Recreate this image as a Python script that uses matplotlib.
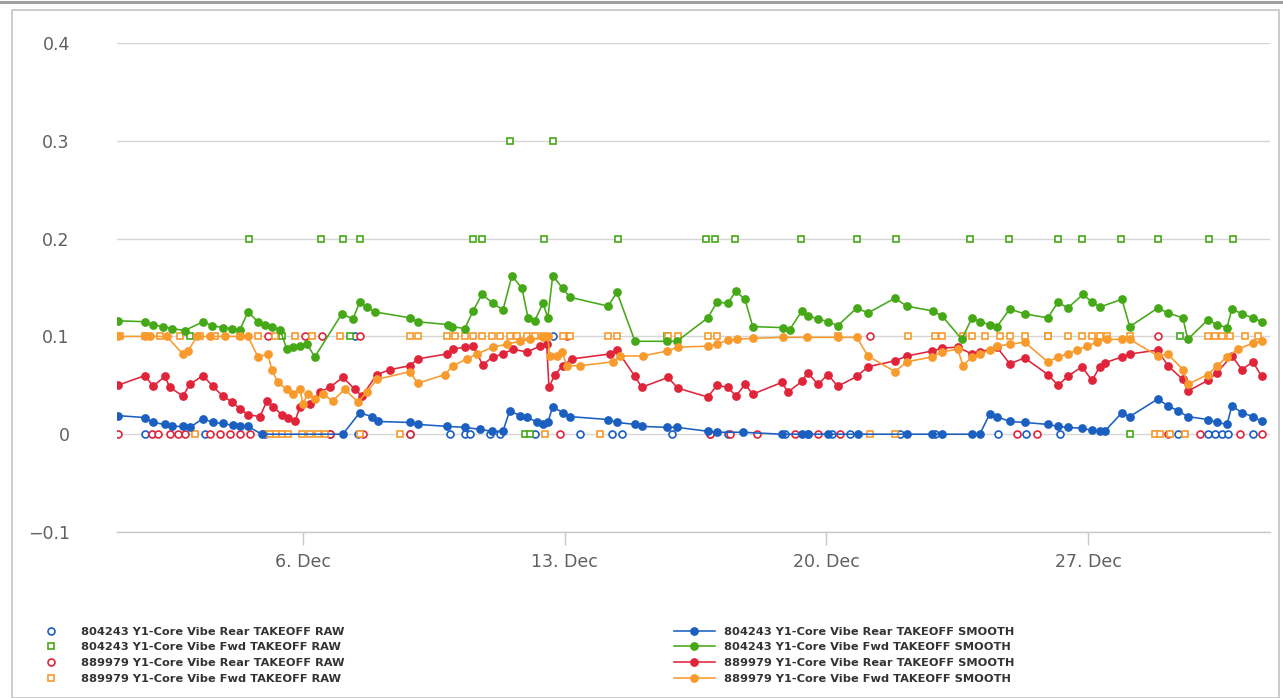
#!/usr/bin/env python3
"""Core vibe TAKEOFF trend chart: raw samples vs smoothed values, December."""

from datetime import datetime, timedelta

import matplotlib
matplotlib.use('Agg')
import matplotlib.pyplot as plt
import matplotlib.dates as mdates
from matplotlib.lines import Line2D
from matplotlib.patches import Rectangle

# --- data: x in days since 1 Dec, y in vibe units ---
BASE = datetime(2016, 12, 1)

blue_smooth_days = [0.05, 0.78, 0.99, 1.31, 1.50, 1.79, 1.98, 2.33, 2.59, 2.86, 3.13, 3.32, 3.53, 3.90,
                    6.07, 6.52, 6.84, 7.01, 7.86, 8.07, 8.85, 9.33, 9.73, 10.05, 10.35, 10.53, 10.80,
                    10.99, 11.26, 11.42, 11.55, 11.68, 11.95, 12.14, 13.16, 13.40, 13.88, 14.06, 14.73,
                    15.00, 15.83, 16.07, 16.76, 17.81, 18.34, 18.50, 19.04, 19.84, 21.15, 21.82, 22.09,
                    22.89, 23.10, 23.37, 23.56, 23.90, 24.30, 24.92, 25.19, 25.45, 25.83, 26.10, 26.31,
                    26.44, 26.90, 27.11, 27.86, 28.13, 28.40, 28.66, 29.20, 29.44, 29.71, 29.84, 30.11,
                    30.40, 30.64]
blue_smooth_vals = [0.019, 0.017, 0.012, 0.010, 0.008, 0.008, 0.007, 0.016, 0.012, 0.011, 0.009, 0.008,
                    0.008, 0.0, 0.0, 0.022, 0.018, 0.013, 0.012, 0.010, 0.008, 0.007, 0.005, 0.003,
                    0.003, 0.024, 0.019, 0.018, 0.012, 0.010, 0.012, 0.028, 0.022, 0.018, 0.015, 0.012,
                    0.010, 0.008, 0.007, 0.007, 0.003, 0.002, 0.002, 0.0, 0.0, 0.0, 0.0, 0.0, 0.0, 0.0,
                    0.0, 0.0, 0.0, 0.021, 0.018, 0.013, 0.012, 0.010, 0.008, 0.007, 0.006, 0.004, 0.003,
                    0.003, 0.022, 0.018, 0.036, 0.029, 0.024, 0.018, 0.015, 0.012, 0.010, 0.029, 0.022,
                    0.018, 0.013]

green_smooth_days = [0.05, 0.78, 0.99, 1.26, 1.50, 1.84, 2.33, 2.57, 2.86, 3.10, 3.32, 3.53, 3.80, 3.98,
                     4.17, 4.39, 4.57, 4.73, 4.92, 5.11, 5.32, 6.04, 6.34, 6.52, 6.71, 6.93, 7.86, 8.07,
                     8.88, 8.98, 9.33, 9.55, 9.79, 10.08, 10.35, 10.59, 10.86, 11.02, 11.20, 11.42,
                     11.55, 11.68, 11.95, 12.14, 13.16, 13.40, 13.88, 14.73, 15.00, 15.83, 16.07, 16.36,
                     16.58, 16.82, 17.03, 17.83, 18.02, 18.34, 18.50, 18.77, 19.04, 19.30, 19.81, 20.11,
                     20.83, 21.15, 21.84, 22.09, 22.62, 22.89, 23.10, 23.37, 23.56, 23.90, 24.30, 24.92,
                     25.19, 25.45, 25.86, 26.10, 26.31, 26.90, 27.11, 27.86, 28.13, 28.53, 28.66, 29.20,
                     29.44, 29.71, 29.84, 30.11, 30.40, 30.64]
green_smooth_vals = [0.116, 0.115, 0.112, 0.110, 0.108, 0.106, 0.115, 0.111, 0.109, 0.108, 0.107, 0.125,
                     0.115, 0.112, 0.110, 0.107, 0.087, 0.089, 0.090, 0.092, 0.079, 0.123, 0.118, 0.135,
                     0.130, 0.125, 0.119, 0.115, 0.112, 0.110, 0.108, 0.126, 0.143, 0.134, 0.127, 0.162,
                     0.149, 0.119, 0.116, 0.134, 0.119, 0.162, 0.149, 0.140, 0.131, 0.145, 0.095, 0.095,
                     0.095, 0.119, 0.135, 0.134, 0.146, 0.138, 0.110, 0.109, 0.107, 0.126, 0.121, 0.118,
                     0.115, 0.111, 0.129, 0.124, 0.139, 0.131, 0.126, 0.121, 0.097, 0.119, 0.115, 0.112,
                     0.110, 0.128, 0.123, 0.119, 0.135, 0.129, 0.143, 0.135, 0.130, 0.138, 0.110, 0.129,
                     0.124, 0.119, 0.097, 0.117, 0.112, 0.109, 0.128, 0.123, 0.119, 0.115]

red_smooth_days = [0.05, 0.78, 0.99, 1.31, 1.44, 1.79, 1.98, 2.33, 2.59, 2.86, 3.10, 3.32, 3.53, 3.85,
                   4.04, 4.20, 4.44, 4.60, 4.79, 4.92, 5.19, 5.45, 5.72, 6.07, 6.39, 6.58, 6.98, 7.33,
                   7.86, 8.07, 8.85, 9.01, 9.33, 9.55, 9.81, 10.08, 10.35, 10.61, 10.99, 11.34, 11.52,
                   11.58, 11.74, 11.95, 12.19, 13.21, 13.40, 13.88, 14.06, 14.76, 15.03, 15.83, 16.07,
                   16.36, 16.58, 16.82, 17.03, 17.81, 17.97, 18.34, 18.50, 18.77, 19.04, 19.30, 19.81,
                   20.11, 20.83, 21.15, 21.82, 22.09, 22.51, 22.89, 23.10, 23.56, 23.90, 24.30, 24.92,
                   25.19, 25.45, 25.83, 26.10, 26.31, 26.44, 26.90, 27.11, 27.86, 28.13, 28.53, 28.66,
                   29.20, 29.44, 29.84, 30.11, 30.40, 30.64]
red_smooth_vals = [0.050, 0.060, 0.049, 0.059, 0.048, 0.039, 0.051, 0.060, 0.049, 0.039, 0.033, 0.026,
                   0.020, 0.018, 0.034, 0.028, 0.020, 0.017, 0.013, 0.028, 0.031, 0.043, 0.048, 0.058,
                   0.046, 0.039, 0.061, 0.066, 0.070, 0.077, 0.082, 0.087, 0.089, 0.090, 0.071, 0.079,
                   0.082, 0.087, 0.084, 0.090, 0.092, 0.048, 0.061, 0.070, 0.077, 0.082, 0.086, 0.059,
                   0.048, 0.058, 0.047, 0.038, 0.050, 0.048, 0.039, 0.051, 0.041, 0.053, 0.043, 0.054,
                   0.063, 0.051, 0.061, 0.049, 0.059, 0.069, 0.075, 0.080, 0.085, 0.088, 0.089, 0.082,
                   0.084, 0.089, 0.072, 0.078, 0.061, 0.050, 0.059, 0.069, 0.055, 0.069, 0.073, 0.079,
                   0.082, 0.086, 0.070, 0.056, 0.044, 0.055, 0.063, 0.080, 0.066, 0.074, 0.059]

orange_smooth_days = [0.05, 0.78, 0.91, 1.36, 1.79, 1.93, 2.17, 2.51, 2.91, 3.32, 3.53, 3.80, 4.06, 4.17,
                      4.33, 4.57, 4.73, 4.92, 5.00, 5.13, 5.32, 5.53, 5.80, 6.12, 6.47, 6.71, 6.98, 7.86,
                      8.07, 8.80, 9.01, 9.39, 9.65, 10.08, 10.45, 10.80, 11.07, 11.42, 11.55, 11.60,
                      11.79, 11.93, 12.06, 12.41, 13.29, 13.48, 14.09, 14.73, 15.03, 15.83, 16.07, 16.36,
                      16.60, 17.03, 17.83, 18.48, 19.30, 19.81, 20.11, 20.83, 21.15, 21.82, 22.09, 22.51,
                      22.65, 22.89, 23.10, 23.37, 23.56, 23.90, 24.30, 24.92, 25.19, 25.45, 25.70, 25.96,
                      26.23, 26.50, 26.90, 27.11, 27.86, 28.13, 28.53, 28.66, 29.20, 29.44, 29.71, 30.00,
                      30.40, 30.64]
orange_smooth_vals = [0.100, 0.100, 0.100, 0.100, 0.082, 0.085, 0.100, 0.100, 0.100, 0.100, 0.100, 0.079,
                      0.082, 0.066, 0.053, 0.046, 0.041, 0.046, 0.031, 0.041, 0.036, 0.041, 0.034, 0.046,
                      0.033, 0.043, 0.056, 0.064, 0.052, 0.061, 0.070, 0.077, 0.082, 0.089, 0.092, 0.095,
                      0.097, 0.099, 0.100, 0.080, 0.080, 0.084, 0.070, 0.070, 0.074, 0.080, 0.080, 0.085,
                      0.089, 0.090, 0.092, 0.096, 0.097, 0.098, 0.099, 0.099, 0.099, 0.099, 0.080, 0.064,
                      0.074, 0.079, 0.084, 0.087, 0.070, 0.079, 0.082, 0.086, 0.090, 0.092, 0.094, 0.074,
                      0.079, 0.082, 0.086, 0.090, 0.094, 0.097, 0.097, 0.097, 0.080, 0.082, 0.066, 0.051,
                      0.061, 0.070, 0.079, 0.087, 0.093, 0.095]

# raw samples (sparse, quantised to 0.1 steps)
blue_raw_days = [0.78, 2.38, 3.98, 5.72, 6.39, 6.47, 7.86, 8.93, 9.33, 9.47, 10.00, 10.27, 11.20,
                 11.68, 12.41, 13.26, 13.53, 14.87, 15.88, 16.36, 17.89, 18.50, 19.14, 19.63, 20.96,
                 21.90, 23.58, 24.33, 25.24, 28.40, 29.20, 29.39, 29.57, 29.73, 30.40]
blue_raw_vals = [0.0, 0.0, 0.0, 0.0, 0.1, 0.0, 0.0, 0.0, 0.0, 0.0, 0.0, 0.0, 0.0,
                 0.1, 0.0, 0.0, 0.0, 0.0, 0.0, 0.0, 0.0, 0.0, 0.0, 0.0, 0.0,
                 0.0, 0.0, 0.0, 0.0, 0.0, 0.0, 0.0, 0.0, 0.0, 0.0]

green_raw_days = [1.98, 3.56, 4.44, 5.48, 6.07, 6.26, 6.52, 9.55, 9.79, 10.53, 10.94, 11.07, 11.44,
                  11.68, 13.42, 14.73, 15.78, 16.02, 16.55, 18.32, 19.81, 20.86, 22.83, 23.88, 24.92,
                  25.19, 25.83, 26.87, 27.11, 27.86, 28.45, 29.22, 29.87]
green_raw_vals = [0.1, 0.2, 0.1, 0.2, 0.2, 0.1, 0.2, 0.2, 0.2, 0.3, 0.0, 0.0, 0.2,
                  0.3, 0.2, 0.1, 0.2, 0.2, 0.2, 0.2, 0.2, 0.2, 0.2, 0.2, 0.1,
                  0.2, 0.2, 0.2, 0.0, 0.2, 0.1, 0.2, 0.2]

red_raw_days = [0.05, 0.96, 1.12, 1.44, 1.66, 1.84, 2.51, 2.78, 3.05, 3.32, 3.58, 4.06, 5.05, 5.51,
                5.72, 6.52, 6.60, 7.86, 11.87, 12.06, 15.88, 16.42, 17.14, 18.16, 18.77, 19.36, 20.16,
                24.09, 24.63, 27.86, 28.13, 28.98, 30.05, 30.64]
red_raw_vals = [0.0, 0.0, 0.0, 0.0, 0.0, 0.0, 0.0, 0.0, 0.0, 0.0, 0.0, 0.1, 0.1, 0.1,
                0.0, 0.1, 0.0, 0.0, 0.0, 0.1, 0.0, 0.0, 0.0, 0.0, 0.0, 0.0, 0.1,
                0.0, 0.0, 0.1, 0.0, 0.0, 0.0, 0.0]

orange_raw_days = [0.11, 0.78, 1.18, 1.71, 2.11, 2.25, 2.65, 3.32, 3.80, 3.98, 4.12, 4.25, 4.28, 4.44,
                   4.60, 4.79, 4.97, 5.19, 5.24, 5.40, 5.59, 5.99, 6.52, 7.59, 7.86, 8.07, 8.85, 9.06,
                   9.33, 9.55, 9.79, 10.05, 10.27, 10.53, 10.72, 10.99, 11.20, 11.42, 11.47, 11.95,
                   12.14, 12.94, 13.16, 13.40, 14.76, 15.03, 15.83, 16.07, 19.30, 20.16, 20.83, 21.18,
                   21.90, 22.09, 22.65, 22.89, 23.24, 23.64, 23.90, 24.30, 24.92, 25.45, 25.83, 26.10,
                   26.31, 26.50, 27.11, 27.78, 27.91, 28.18, 28.58, 29.20, 29.39, 29.57, 29.79, 30.19,
                   30.53]
orange_raw_vals = [0.1, 0.1, 0.1, 0.1, 0.0, 0.1, 0.1, 0.1, 0.1, 0.0, 0.0, 0.1, 0.0, 0.0,
                   0.0, 0.1, 0.0, 0.0, 0.1, 0.0, 0.0, 0.1, 0.0, 0.0, 0.1, 0.1, 0.1, 0.1,
                   0.1, 0.1, 0.1, 0.1, 0.1, 0.1, 0.1, 0.1, 0.1, 0.1, 0.0, 0.1,
                   0.1, 0.0, 0.1, 0.1, 0.1, 0.1, 0.1, 0.1, 0.1, 0.0, 0.0, 0.1,
                   0.1, 0.1, 0.1, 0.1, 0.1, 0.1, 0.1, 0.1, 0.1, 0.1, 0.1, 0.1,
                   0.1, 0.1, 0.1, 0.0, 0.0, 0.0, 0.0, 0.1, 0.1, 0.1, 0.1, 0.1,
                   0.1]

labels_raw = [
    '804243 Y1-Core Vibe Rear TAKEOFF RAW',
    '804243 Y1-Core Vibe Fwd TAKEOFF RAW',
    '889979 Y1-Core Vibe Rear TAKEOFF RAW',
    '889979 Y1-Core Vibe Fwd TAKEOFF RAW',
]
labels_smooth = [
    '804243 Y1-Core Vibe Rear TAKEOFF SMOOTH',
    '804243 Y1-Core Vibe Fwd TAKEOFF SMOOTH',
    '889979 Y1-Core Vibe Rear TAKEOFF SMOOTH',
    '889979 Y1-Core Vibe Fwd TAKEOFF SMOOTH',
]
y_ticks = [-0.1, 0.0, 0.1, 0.2, 0.3, 0.4]
y_tick_labels = ['\u22120.1', '0', '0.1', '0.2', '0.3', '0.4']

BLUE = '#1b5fc1'
GREEN = '#45a817'
RED = '#e0243a'
ORANGE = '#f89a2c'


def to_dates(days):
    return [BASE + timedelta(days=d) for d in days]


W, H = 1283, 698
fig = plt.figure(figsize=(W / 100, H / 100), dpi=100)
fig.patch.set_facecolor('white')
ax = fig.add_axes([117 / W, 1 - 532 / H, (1270 - 117) / W, (532 - 43) / H])

raw = [
    (blue_raw_days, blue_raw_vals, BLUE, 'o'),
    (green_raw_days, green_raw_vals, GREEN, 's'),
    (red_raw_days, red_raw_vals, RED, 'o'),
    (orange_raw_days, orange_raw_vals, ORANGE, 's'),
]
smooth = [
    (blue_smooth_days, blue_smooth_vals, BLUE),
    (green_smooth_days, green_smooth_vals, GREEN),
    (red_smooth_days, red_smooth_vals, RED),
    (orange_smooth_days, orange_smooth_vals, ORANGE),
]

raw_handles = []
for (days, vals, col, mk), lab in zip(raw, labels_raw):
    h, = ax.plot(to_dates(days), vals, linestyle='none', marker=mk, markersize=5.0,
                 markerfacecolor='white', markeredgecolor=col, markeredgewidth=1.2,
                 label=lab, zorder=3)
    raw_handles.append(h)

smooth_handles = []
for (days, vals, col), lab in zip(smooth, labels_smooth):
    h, = ax.plot(to_dates(days), vals, color=col, linewidth=1.15, marker='o',
                 markersize=6.3, markeredgewidth=0, label=lab, zorder=4)
    smooth_handles.append(h)

ax.set_xlim(BASE + timedelta(days=0.03), BASE + timedelta(days=30.86))
ax.set_ylim(-0.1, 0.4)
ax.set_yticks(y_ticks)
ax.set_yticklabels(y_tick_labels)
ax.xaxis.set_major_locator(mdates.DayLocator(bymonthday=[6, 13, 20, 27]))
ax.xaxis.set_major_formatter(mdates.DateFormatter('%-d. %b'))

ax.grid(axis='y', color='#d6d6d6', linewidth=1.0, zorder=0)
ax.set_axisbelow(True)
for side in ['top', 'right', 'left']:
    ax.spines[side].set_visible(False)
ax.spines['bottom'].set_color('#c8c8c8')
ax.spines['bottom'].set_linewidth(1.0)
ax.tick_params(axis='y', length=0, pad=34, labelsize=12.5, labelcolor='#606060')
ax.tick_params(axis='x', length=9, width=1, color='#c8c8c8', pad=6,
               labelsize=12.5, labelcolor='#606060')
for t in ax.get_xticklabels() + ax.get_yticklabels():
    t.set_family('DejaVu Sans')

legend_kw = dict(loc='upper left', frameon=False, borderpad=0,
                 handlelength=3.6, handletextpad=0.8, labelspacing=0.5,
                 prop={'family': 'DejaVu Sans', 'size': 8.2, 'weight': 'bold'})
leg1 = fig.legend(raw_handles, labels_raw, bbox_to_anchor=(25 / W, 1 - 621 / H), **legend_kw)
leg2 = fig.legend(smooth_handles, labels_smooth, bbox_to_anchor=(668 / W, 1 - 621 / H), **legend_kw)
for leg in (leg1, leg2):
    for t in leg.get_texts():
        t.set_color('#333333')

# outer frame like the dashboard widget
fig.add_artist(Rectangle((12 / W, 0), (1279 - 12) / W, 1 - 10 / H, transform=fig.transFigure,
                         fill=False, edgecolor='#c4c4c4', linewidth=1.2))
fig.add_artist(Line2D([0, 1], [1 - 1.5 / H, 1 - 1.5 / H], transform=fig.transFigure,
                      color='#a0a0a0', linewidth=2.2))

fig.savefig('out.png', dpi=100, facecolor='white')
plt.close(fig)
